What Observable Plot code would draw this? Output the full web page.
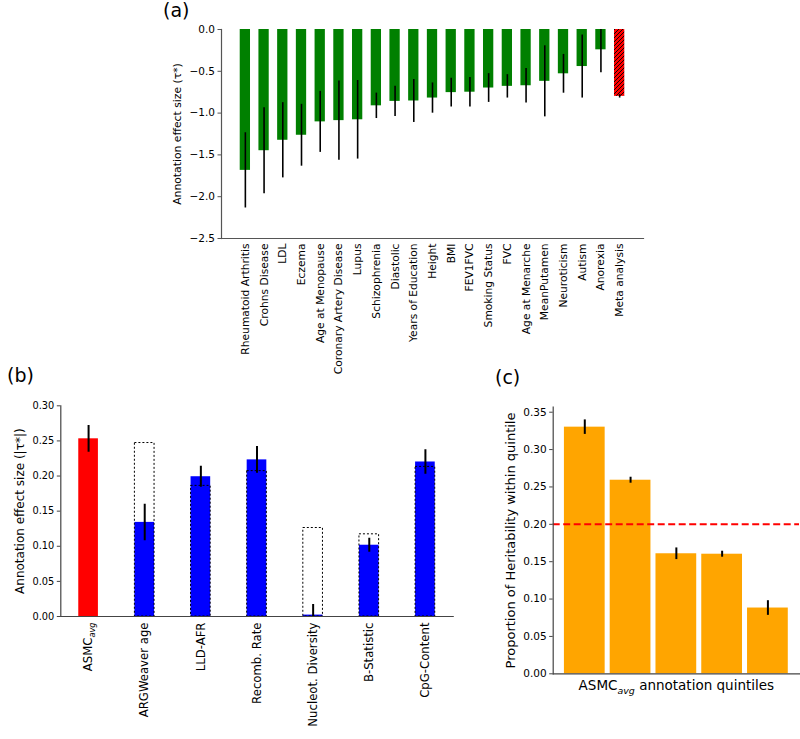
<!DOCTYPE html>
<html><head><meta charset="utf-8">
<script src="https://cdn.jsdelivr.net/npm/d3@7"></script>
<script src="https://cdn.jsdelivr.net/npm/@observablehq/plot@0.6"></script>
<style>
body{margin:0;background:#fff;font-family:"DejaVu Sans",sans-serif;}
#root{position:relative;width:800px;height:739px;overflow:hidden;background:#fff;}
.panel{position:absolute;}
.tag{position:absolute;font-size:19px;line-height:19px;color:#000;font-family:"DejaVu Sans",sans-serif;}
</style></head><body><div id="root"></div>
<script>
// ---------- Panel (a) data ----------
const traitsA = ["Rheumatoid Arthritis","Crohns Disease","LDL","Eczema","Age at Menopause","Coronary Artery Disease","Lupus","Schizophrenia","Diastolic","Years of Education","Height","BMI","FEV1FVC","Smoking Status","FVC","Age at Menarche","MeanPutamen","Neuroticism","Autism","Anorexia","Meta analysis"];
const tauA = [-1.685,-1.45,-1.325,-1.265,-1.105,-1.09,-1.08,-0.913,-0.86,-0.855,-0.82,-0.755,-0.75,-0.70,-0.68,-0.673,-0.62,-0.53,-0.443,-0.243,-0.80];
const errA = [0.45,0.515,0.45,0.37,0.365,0.475,0.47,0.152,0.18,0.257,0.181,0.172,0.176,0.172,0.14,0.206,0.425,0.232,0.377,0.275,0.02];
const ticksA = [0,-0.5,-1.0,-1.5,-2.0,-2.5];
const labelA = "Annotation effect size (\u03c4*)";

// ---------- Panel (b) data ----------
const annotsB = ["ASMC_avg","ARGWeaver age","LLD-AFR","Recomb. Rate","Nucleot. Diversity","B-Statistic","CpG-Content"];
const tauB = [0.253,0.134,0.199,0.223,0.002,0.1015,0.220];
const errB = [0.019,0.026,0.015,0.019,0.015,0.010,0.0175];
const marginalB = [null,0.247,0.186,0.207,0.126,0.117,0.213];
const ticksB = [0,0.05,0.10,0.15,0.20,0.25,0.30];
const labelB = "Annotation effect size (|\u03c4*|)";

// ---------- Panel (c) data ----------
const quintilesC = ["Q1","Q2","Q3","Q4","Q5"];
const propC = [0.330,0.259,0.1606,0.160,0.088];
const errC = [0.0097,0.004,0.0078,0.004,0.0098];
const expectedC = [0.2];
const ticksC = [0,0.05,0.10,0.15,0.20,0.25,0.30,0.35];
const labelCy = "Proportion of Heritability within quintile";
const labelCx = "ASMC_avg annotation quintiles";

const root = document.getElementById("root");
const FONT = "DejaVu Sans";

function place(el, left, top){ el.classList.add("panel"); el.style.left = left+"px"; el.style.top = top+"px"; root.appendChild(el); }
function tag(txt, left, top){ const d=document.createElement("div"); d.className="tag"; d.textContent=txt; d.style.left=left+"px"; d.style.top=top+"px"; root.appendChild(d); }

const NS = "http://www.w3.org/2000/svg";
function subAvg(svg){
  svg.querySelectorAll("text").forEach(t => {
    if (t.children.length || !t.textContent.includes("_avg")) return;
    const [pre, post] = t.textContent.split("_avg");
    t.textContent = "";
    const a = document.createElementNS(NS,"tspan"); a.textContent = pre; t.appendChild(a);
    const b = document.createElementNS(NS,"tspan"); b.textContent = "avg";
    b.setAttribute("font-size","0.7em"); b.setAttribute("font-style","italic"); b.setAttribute("dy","0.33em"); t.appendChild(b);
    if (post) { const c = document.createElementNS(NS,"tspan"); c.textContent = post; c.setAttribute("dy","-0.23em"); t.appendChild(c); }
  });
}

// ---------- Panel (a) ----------
const dataA = traitsA.map((name,i)=>({name, tau: tauA[i], err: errA[i]}));
const svgA = Plot.plot({
  width: 660, height: 390, marginTop: 29, marginBottom: 152, marginLeft: 221, marginRight: 17,
  style: {background: "none", fontFamily: FONT, fontSize: "10.5px", color: "#000", overflow: "visible"},
  x: {type: "band", domain: traitsA, paddingInner: 0.45, paddingOuter: 1.0, align: 0.5, round: false},
  y: {domain: [-2.5, 0]},
  marks: [
    Plot.barY(dataA, {filter: d => d.name !== "Meta analysis", x: "name", y1: 0, y2: "tau", fill: "green"}),
    Plot.barY(dataA, {filter: d => d.name === "Meta analysis", x: "name", y1: 0, y2: "tau", fill: "url(#hatchA)"}),
    Plot.ruleX(dataA, {x: "name", y1: d => d.tau - d.err, y2: d => d.tau + d.err, stroke: "black", strokeWidth: 1.6, clip: true}),
    Plot.frame({anchor: "left", stroke: "#555", strokeWidth: 1.2}),
    Plot.frame({anchor: "bottom", stroke: "#555", strokeWidth: 1.2}),
    Plot.axisY({ticks: ticksA, tickFormat: d3.format(".1f"), tickSize: 3.5, tickPadding: 3, label: null, stroke: "#555", fontSize: 10.5}),
    Plot.axisX({tickRotate: -90, tickSize: 0, tickPadding: 5, label: null, fontSize: 10.7}),
    Plot.text([labelA], {text: d => d, frameAnchor: "left", dx: -44, rotate: -90, textAnchor: "middle", lineAnchor: "middle", fontSize: 10.8})
  ]
});
const defs = d3.select(svgA).insert("defs", ":first-child");
const pat = defs.append("pattern").attr("id","hatchA").attr("patternUnits","userSpaceOnUse").attr("width",4).attr("height",4);
pat.append("rect").attr("width",4).attr("height",4).attr("fill","red");
pat.append("path").attr("d","M-1,1 l2,-2 M0,4 l4,-4 M3,5 l2,-2").attr("stroke","black").attr("stroke-width",0.9);
place(svgA, 0, 0);

// ---------- Panel (b) ----------
const dataB = annotsB.map((name,i)=>({name, tau: tauB[i], err: errB[i], marg: marginalB[i]}));
const svgB = Plot.plot({
  width: 470, height: 354, marginTop: 20.3, marginBottom: 123, marginLeft: 60.3, marginRight: 17.3,
  style: {background: "none", fontFamily: FONT, fontSize: "10px", color: "#000", overflow: "visible"},
  x: {type: "band", domain: annotsB, paddingInner: 0.65, paddingOuter: 0.32, align: 0.5, round: false},
  y: {domain: [0, 0.30]},
  marks: [
    Plot.barY(dataB, {filter: d => d.name === "ASMC_avg", x: "name", y1: 0, y2: "tau", fill: "red"}),
    Plot.barY(dataB, {filter: d => d.name !== "ASMC_avg", x: "name", y1: 0, y2: "tau", fill: "blue"}),
    Plot.barY(dataB, {filter: d => d.marg != null, x: "name", y1: 0, y2: "marg", fill: "none", stroke: "black", strokeWidth: 1, strokeDasharray: "2,2"}),
    Plot.ruleX(dataB, {x: "name", y1: d => d.tau - d.err, y2: d => d.tau + d.err, stroke: "black", strokeWidth: 2, clip: true}),
    Plot.frame({anchor: "left", stroke: "#444", strokeWidth: 1.2}),
    Plot.frame({anchor: "bottom", stroke: "#444", strokeWidth: 1.2}),
    Plot.axisY({ticks: ticksB, tickFormat: d3.format(".2f"), tickSize: 3.5, tickPadding: 3, label: null, stroke: "#444", fontSize: 9.8}),
    Plot.axisX({tickRotate: -90, tickSize: 0, tickPadding: 6, label: null, fontSize: 11.7}),
    Plot.text([labelB], {text: d => d, frameAnchor: "left", dx: -40.3, rotate: -90, textAnchor: "middle", lineAnchor: "middle", fontSize: 12})
  ]
});
subAvg(svgB);
place(svgB, 0, 385);

// ---------- Panel (c) ----------
const dataC = quintilesC.map((q,i)=>({q, p: propC[i], err: errC[i]}));
const svgC = Plot.plot({
  width: 330, height: 354, marginTop: 21.7, marginBottom: 65.7, marginLeft: 82.7, marginRight: 1,
  style: {background: "none", fontFamily: FONT, fontSize: "10.5px", color: "#000", overflow: "visible"},
  x: {type: "band", domain: quintilesC, paddingInner: 0.11, paddingOuter: 0.245, align: 0.5, round: false, axis: null},
  y: {domain: [0, 0.3567]},
  marks: [
    Plot.barY(dataC, {x: "q", y1: 0, y2: "p", fill: "orange"}),
    Plot.ruleX(dataC, {x: "q", y1: d => d.p - d.err, y2: d => d.p + d.err, stroke: "black", strokeWidth: 2}),
    Plot.ruleY(expectedC, {stroke: "red", strokeWidth: 2, strokeDasharray: "7,3.5"}),
    Plot.frame({anchor: "left", stroke: "#444", strokeWidth: 1.2}),
    Plot.frame({anchor: "bottom", stroke: "#444", strokeWidth: 1.2}),
    Plot.axisY({ticks: ticksC, tickFormat: d3.format(".2f"), tickSize: 3.5, tickPadding: 3, label: null, stroke: "#444", fontSize: 10.5}),
    Plot.text([labelCy], {text: d => d, frameAnchor: "left", dx: -42.7, rotate: -90, textAnchor: "middle", lineAnchor: "middle", fontSize: 13}),
    Plot.text([labelCx], {text: d => d, frameAnchor: "bottom", dy: 7, lineAnchor: "top", fontSize: 13.5})
  ]
});
subAvg(svgC);
place(svgC, 470, 385);

// ---------- Panel tags ----------
tag("(a)", 163, 1);
tag("(b)", 7, 366);
tag("(c)", 495, 368);
</script></body></html>
